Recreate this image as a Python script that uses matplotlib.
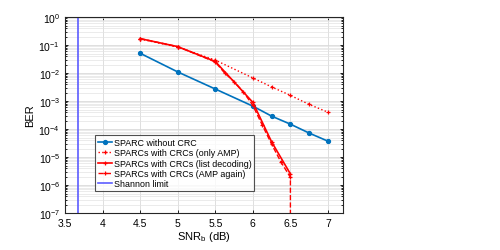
import numpy as np
import matplotlib.pyplot as plt
from matplotlib.ticker import LogLocator, NullFormatter

plt.rcParams['font.family'] = ['Liberation Sans', 'DejaVu Sans']

# SPARC without CRC
snr_plain = [4.5, 5.0, 5.5, 6.0, 6.25, 6.5, 6.75, 7.0]
ber_plain = [5.1e-2, 1.1e-2, 2.7e-3, 6.6e-4, 2.9e-4, 1.5e-4, 7.2e-5, 3.7e-5]

# SPARCs with CRCs (only AMP)
snr_amp = [4.5, 5.0, 5.5, 6.0, 6.25, 6.5, 6.75, 7.0]
ber_amp = [1.65e-1, 8.5e-2, 2.9e-2, 6.7e-3, 3.2e-3, 1.6e-3, 7.6e-4, 4.0e-4]

# SPARCs with CRCs (list decoding)
snr_list = [4.5, 5.0, 5.5, 6.0, 6.25, 6.5]
ber_list = [1.7e-1, 8.8e-2, 2.6e-2, 9.0e-4, 3.5e-5, 2.5e-6]

# SPARCs with CRCs (AMP again)
snr_again = [4.5, 5.0, 5.5, 5.625, 5.75, 5.875, 6.0, 6.125, 6.25, 6.375, 6.5, 6.5]
ber_again = [1.7e-1, 8.8e-2, 2.5e-2, 1.0e-2, 5.0e-3, 2.1e-3, 7.0e-4, 1.4e-4,
             2.9e-5, 6.6e-6, 1.9e-6, 1e-10]

shannon_limit = 3.67

fig = plt.figure(figsize=(5, 2.51), dpi=100)
ax = fig.add_axes([0.13, 0.147, 0.556, 0.781])

ax.semilogy(snr_plain, ber_plain, '-o', color='#0072BD', lw=1.2, ms=2.8,
            label='SPARC without CRC')
ax.semilogy(snr_amp, ber_amp, ':+', color='red', lw=1.0, ms=3.2, mew=0.9,
            label='SPARCs with CRCs (only AMP)')
ax.semilogy(snr_list, ber_list, '-+', color='red', lw=1.2, ms=3.2, mew=0.9,
            label='SPARCs with CRCs (list decoding)')
ax.semilogy(snr_again, ber_again, '--+', color='red', lw=1.0, ms=3.2, mew=0.9,
            label='SPARCs with CRCs (AMP again)')
ax.axvline(shannon_limit, color='#5c5cff', lw=1.2, label='Shannon limit')

ax.set_xlim(3.5, 7.2)
ax.set_ylim(1e-7, 1)
ax.set_xticks(np.arange(3.5, 7.01, 0.5))
ax.set_xticklabels(['3.5', '4', '4.5', '5', '5.5', '6', '6.5', '7'])
ax.yaxis.set_major_locator(LogLocator(base=10, numticks=10))
ax.yaxis.set_minor_locator(LogLocator(base=10, subs=np.arange(2, 10), numticks=100))
ax.yaxis.set_minor_formatter(NullFormatter())

ax.grid(True, which='major', color='#d9d9d9', lw=0.6)
ax.grid(True, which='minor', axis='y', color='#e3e3e3', lw=0.5)
ax.set_axisbelow(True)
ax.tick_params(which='both', direction='in', top=True, right=True,
               labelsize=7.5, length=2.5, width=0.6)
ax.tick_params(which='minor', length=1.5)
for s in ax.spines.values():
    s.set_linewidth(0.8)
    s.set_color('#262626')

ax.set_xlabel('SNR$_\\mathregular{b}$ (dB)', fontsize=8, labelpad=1)
ax.set_ylabel('BER', fontsize=8, labelpad=2)

leg = ax.legend(loc='lower left', bbox_to_anchor=(0.108, 0.112), fontsize=6.4,
                frameon=True, fancybox=False, borderpad=0.3, labelspacing=0.15,
                handlelength=1.6, handletextpad=0.2, borderaxespad=0)
leg.get_frame().set_edgecolor('#262626')
leg.get_frame().set_linewidth(0.8)

fig.savefig('out.png', dpi=100)
